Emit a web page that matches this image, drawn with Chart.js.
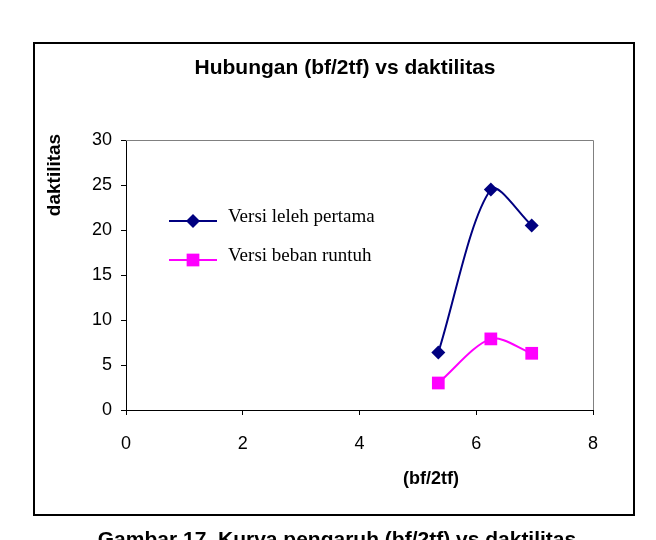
<!DOCTYPE html>
<html>
<head>
<meta charset="utf-8">
<script src="https://cdn.jsdelivr.net/npm/chart.js@4/dist/chart.umd.min.js"></script>
<style>
  html, body { margin: 0; padding: 0; background: #fff; }
  body { width: 656px; height: 540px; position: relative; overflow: hidden; }
  #wrap { position: absolute; left: 0; top: 0; width: 656px; height: 540px; }
  #frame { position: absolute; left: 33px; top: 42px; width: 602px; height: 474px;
           border: 2px solid #000; box-sizing: border-box; pointer-events: none; }
  #caption { position: absolute; left: 0; width: 674px; top: 527px; text-align: center;
             font: bold 21px "Liberation Sans", Arial, sans-serif; color: #000; white-space: nowrap; }
</style>
</head>
<body>
<div id="wrap"><canvas id="myChart" width="656" height="540"></canvas></div>
<div id="frame"></div>
<div id="caption">Gambar 17. Kurva pengaruh (bf/2tf) vs daktilitas</div>
<script>
// data
var ratio = [5.35, 6.25, 6.95];          // bf/2tf
var leleh = [6.4, 24.5, 20.5];           // Versi leleh pertama
var runtuh = [3.0, 7.9, 6.3];            // Versi beban runtuh
var seriesNames = ["Versi leleh pertama", "Versi beban runtuh"];
var xTicks = [0, 2, 4, 6, 8];
var yTicks = [0, 5, 10, 15, 20, 25, 30];

function pts(ys) {
    return ratio.map(function (x, i) { return { x: x, y: ys[i] }; });
}

var arial = '"Liberation Sans", Arial, sans-serif';

// title, axis titles, plot border and the legend inside the plot
var extras = {
    id: 'extras',
    beforeDatasetsDraw: function (chart) {
        var c = chart.ctx, a = chart.chartArea;
        c.save();
        c.strokeStyle = '#808080';
        c.lineWidth = 1;
        c.beginPath();
        c.moveTo(a.left, a.top + 0.5);
        c.lineTo(a.right + 0.5, a.top + 0.5);
        c.lineTo(a.right + 0.5, a.bottom);
        c.stroke();
        c.restore();
    },
    afterDraw: function (chart) {
        var c = chart.ctx, a = chart.chartArea;
        c.save();
        c.fillStyle = '#000';
        c.textAlign = 'center';
        c.textBaseline = 'middle';
        c.font = 'bold 21px ' + arial;
        c.fillText('Hubungan (bf/2tf) vs daktilitas', 345, a.top - 72);
        c.font = 'bold 18px ' + arial;
        c.fillText('(bf/2tf)', a.left + 305, a.bottom + 69);
        c.save();
        c.translate(a.left - 71, a.top + 35);
        c.rotate(-Math.PI / 2);
        c.font = 'bold 19px ' + arial;
        c.fillText('daktilitas', 0, 0);
        c.restore();

        // legend
        var rows = [a.top + 81, a.top + 120];
        chart.data.datasets.forEach(function (ds, i) {
            var y = rows[i];
            var mx = a.left + 67;
            c.strokeStyle = ds.borderColor;
            c.lineWidth = 2;
            c.beginPath();
            c.moveTo(a.left + 43, y);
            c.lineTo(a.left + 91, y);
            c.stroke();
            c.fillStyle = ds.backgroundColor;
            c.beginPath();
            if (ds.pointStyle === 'rectRot') {
                var r = ds.pointRadius;
                c.moveTo(mx - r, y); c.lineTo(mx, y - r);
                c.lineTo(mx + r, y); c.lineTo(mx, y + r);
                c.closePath();
            } else {
                var s = ds.pointRadius * Math.SQRT1_2;
                c.rect(mx - s, y - s, 2 * s, 2 * s);
            }
            c.fill();
            c.fillStyle = '#000';
            c.textAlign = 'left';
            c.font = '19px "Liberation Serif", "Times New Roman", serif';
            c.fillText(ds.label, a.left + 102, y - 4);
        });
        c.restore();
    }
};

var ctx = document.getElementById('myChart').getContext('2d');
var chart = new Chart(ctx, {
    type: 'line',
    data: {
        datasets: [
            {
                label: seriesNames[0],
                data: pts(leleh),
                borderColor: '#000080',
                backgroundColor: '#000080',
                borderWidth: 2,
                pointStyle: 'rectRot',
                pointRadius: 7,
                pointBorderWidth: 0,
                tension: 0.3,
                fill: false
            },
            {
                label: seriesNames[1],
                data: pts(runtuh),
                borderColor: '#ff00ff',
                backgroundColor: '#ff00ff',
                borderWidth: 2,
                pointStyle: 'rect',
                pointRadius: 9,
                pointBorderWidth: 0,
                tension: 0.3,
                fill: false
            }
        ]
    },
    options: {
        responsive: false,
        animation: false,
        layout: { padding: { left: 0, right: 63, top: 140, bottom: 0 } },
        plugins: {
            legend: { display: false },
            tooltip: { enabled: false },
            title: { display: false }
        },
        scales: {
            x: {
                type: 'linear',
                min: 0, max: 8,
                afterBuildTicks: function (s) { s.ticks = xTicks.map(function (v) { return { value: v }; }); },
                afterFit: function (s) { s.height = 130; },
                grid: { drawOnChartArea: false, tickLength: 5, color: '#000' },
                border: { color: '#000', width: 1 },
                ticks: { color: '#000', padding: 18, maxRotation: 0, font: { family: arial, size: 18 } }
            },
            y: {
                type: 'linear',
                min: 0, max: 30,
                afterBuildTicks: function (s) { s.ticks = yTicks.map(function (v) { return { value: v }; }); },
                afterFit: function (s) { s.width = 126; },
                grid: { drawOnChartArea: false, tickLength: 5, color: '#000' },
                border: { color: '#000', width: 1 },
                ticks: { color: '#000', padding: 9, font: { family: arial, size: 18 } }
            }
        }
    },
    plugins: [extras]
});
</script>
</body>
</html>
